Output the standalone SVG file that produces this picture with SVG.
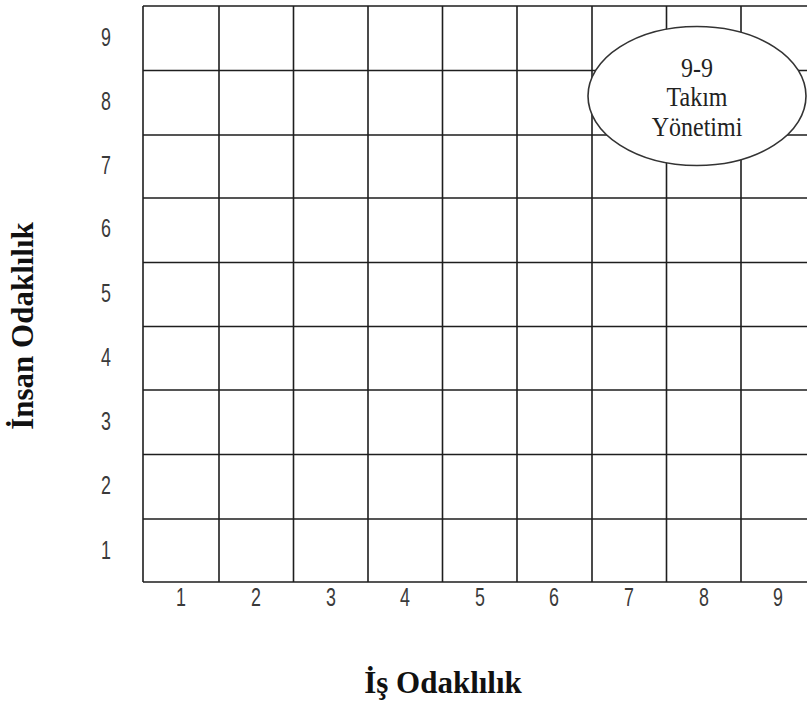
<svg xmlns="http://www.w3.org/2000/svg" width="807" height="704" viewBox="0 0 807 704">
<style>
.grid{stroke:#1e1e1e;stroke-width:1.6;fill:none}
.num{font-family:"Liberation Sans",Arial,sans-serif;font-size:21px;fill:#3a3a3a;text-anchor:middle}
.ell{font-family:"Liberation Serif","Times New Roman",serif;font-size:24px;fill:#222;text-anchor:middle}
.axis{font-family:"Liberation Serif","Times New Roman",serif;font-size:31px;font-weight:bold;fill:#111;text-anchor:middle}
</style>
<rect width="807" height="704" fill="#fff"/>
<g id="grid">
<path class="grid" d="M143,6H807M143,70.5H807M143,135H807M143,198H807M143,262.5H807M143,326.5H807M143,390H807M143,454.5H807M143,519H807M143,582H807"/>
<path class="grid" d="M143,6V582M219,6V582M293.5,6V582M368,6V582M442.5,6V582M517,6V582M592,6V582M666.5,6V582M741,6V582"/>
</g>
<g id="y-labels">
<text class="num" transform="translate(106,46) scale(0.85,1.2)">9</text>
<text class="num" transform="translate(106,110) scale(0.85,1.2)">8</text>
<text class="num" transform="translate(106,174) scale(0.85,1.2)">7</text>
<text class="num" transform="translate(106,237) scale(0.85,1.2)">6</text>
<text class="num" transform="translate(106,302) scale(0.85,1.2)">5</text>
<text class="num" transform="translate(106,366) scale(0.85,1.2)">4</text>
<text class="num" transform="translate(106,430) scale(0.85,1.2)">3</text>
<text class="num" transform="translate(106,494) scale(0.85,1.2)">2</text>
<text class="num" transform="translate(106,559) scale(0.85,1.2)">1</text>
</g>
<g id="x-labels">
<text class="num" transform="translate(181,606) scale(0.85,1.2)">1</text>
<text class="num" transform="translate(256,606) scale(0.85,1.2)">2</text>
<text class="num" transform="translate(331,606) scale(0.85,1.2)">3</text>
<text class="num" transform="translate(405,606) scale(0.85,1.2)">4</text>
<text class="num" transform="translate(480,606) scale(0.85,1.2)">5</text>
<text class="num" transform="translate(554,606) scale(0.85,1.2)">6</text>
<text class="num" transform="translate(629,606) scale(0.85,1.2)">7</text>
<text class="num" transform="translate(704,606) scale(0.85,1.2)">8</text>
<text class="num" transform="translate(778,606) scale(0.85,1.2)">9</text>
</g>
<g id="node-9-9">
<ellipse cx="697" cy="96" rx="109" ry="69.5" fill="#fff" stroke="#333" stroke-width="1.6"/>
<text class="ell" transform="translate(697,77) scale(1,1.12)">9-9</text>
<text class="ell" transform="translate(697,106) scale(1,1.12)">Takım</text>
<text class="ell" transform="translate(697,136) scale(1,1.12)">Yönetimi</text>
</g>
<g id="axis-titles">
<text class="axis" x="443" y="693">İş Odaklılık</text>
<text class="axis" transform="translate(33,326) rotate(-90)" x="0" y="0">İnsan Odaklılık</text>
</g>
</svg>
